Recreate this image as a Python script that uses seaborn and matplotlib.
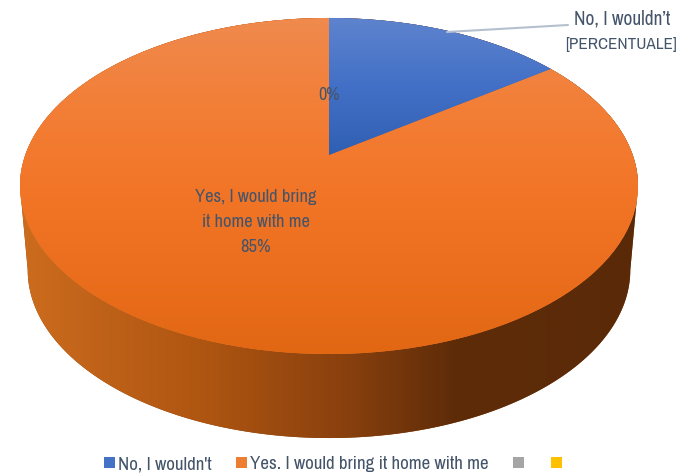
import numpy as np
import matplotlib
matplotlib.use("Agg")
import matplotlib.pyplot as plt
import seaborn as sns
from matplotlib.colors import LinearSegmentedColormap
from matplotlib.patches import PathPatch
from matplotlib.path import Path
from matplotlib.transforms import Transform

categories = ["No, I wouldn't", "Yes. I would bring it home with me", "", ""]
shares = [15, 85, 0, 0]
series_colors = ["#4472C4", "#ED7D31", "#A5A5A5", "#FFC000"]

sns.set_theme(style="white")
plt.rcParams["font.family"] = ["Archivo Narrow", "Liberation Sans", "DejaVu Sans"]
INK = "#44546A"

WIDTH, HEIGHT = 692, 476
CX, CY = 329.0, 155.0
TILT = 62 / 336
SCALE_Y = 162.3
SCALE_X = 303.7
DEPTH = 84.0
BASE_SHRINK = 0.975


class TiltedDisc(Transform):
    """Projective view of the unit disc, seen from above and slightly behind."""
    input_dims = output_dims = 2
    is_separable = False
    has_inverse = False

    def __init__(self, shift=0.0, shrink=1.0):
        super().__init__()
        self.shift = shift
        self.shrink = shrink

    def transform_non_affine(self, values):
        values = np.asarray(values, dtype=float)
        w = 1 + TILT * values[:, 1]
        return np.column_stack([
            CX + self.shrink * SCALE_X * values[:, 0] / w,
            CY + self.shift - SCALE_Y * values[:, 1] / w,
        ])


def gradient(ax, stops, extent, horizontal, clip_patch, zorder):
    cmap = LinearSegmentedColormap.from_list("shade", stops)
    ramp = np.linspace(0, 1, 512)
    ramp = ramp[None, :] if horizontal else ramp[:, None]
    im = ax.imshow(ramp, cmap=cmap, extent=extent, aspect="auto",
                   origin="upper", interpolation="bilinear", zorder=zorder)
    im.set_clip_path(clip_patch)


fig = plt.figure(figsize=(WIDTH / 100, HEIGHT / 100), dpi=100, facecolor="white")
ax = fig.add_axes([0, 0, 1, 1])

palette = sns.color_palette(series_colors)
wedges, _ = ax.pie(shares, colors=palette, startangle=90, counterclock=False,
                   radius=1.0, wedgeprops={"linewidth": 0})
top_view = TiltedDisc()
for wedge in wedges:
    wedge.set_transform(top_view + ax.transData)
    wedge.set_clip_on(False)
    wedge.set_zorder(3)

# Silhouette of the extruded side: lower rim of the base, upper rim of the top
edge = np.arcsin(TILT)
lower = np.linspace(np.pi + edge, 2 * np.pi - edge, 240)
upper = np.linspace(-edge, np.pi + edge, 360)
base_rim = TiltedDisc(DEPTH, BASE_SHRINK).transform(np.column_stack([np.cos(lower), np.sin(lower)]))
top_rim = top_view.transform(np.column_stack([np.cos(upper), np.sin(upper)]))
side_patch = PathPatch(Path(np.vstack([base_rim, top_rim, base_rim[:1]]), closed=True),
                       facecolor="#8B420E", linewidth=0, transform=ax.transData, zorder=1)
ax.add_patch(side_patch)
gradient(ax, [(0.0, "#CC6C1E"), (0.30, "#AE5511"), (0.52, "#8A410E"),
              (0.70, "#5F2C08"), (1.0, "#5A2A08")],
         (20, 640, 440, 15), True, side_patch, 2)

# Vertical shading on the two slices of the top face
gradient(ax, [(0.0, "#EF8A4E"), (0.25, "#F27F38"), (0.5, "#F37628"), (1.0, "#E26713")],
         (15, 645, 356, 16), False, wedges[1], 4)
gradient(ax, [(0.0, "#5F84CE"), (0.5, "#4270C6"), (1.0, "#2F5FB3")],
         (325, 555, 156, 16), False, wedges[0], 5)

# Data labels
ax.text(329, 95, "0%", ha="center", va="center", fontsize=13, color=INK, zorder=6)
for y, line in zip((197, 222, 247), ("Yes, I would bring", "it home with me", "85%")):
    ax.text(255.5, y, line, ha="center", va="center", fontsize=13.3, color=INK, zorder=6)
ax.text(622, 19, "No, I wouldn\u2019t", ha="center", va="center", fontsize=14, color=INK, zorder=6)
ax.text(621, 45, "[PERCENTUALE]", ha="center", va="center", fontsize=12.3, color=INK, zorder=6)
ax.annotate("", xy=(447, 32), xytext=(568, 25),
            arrowprops={"arrowstyle": "-", "color": "#B4C0CF", "lw": 1.5,
                        "shrinkA": 0, "shrinkB": 0}, zorder=6)

ax.legend(wedges, categories, loc="lower left", bbox_to_anchor=(100 / WIDTH, 0.0),
          ncol=4, frameon=False, fontsize=13.6, labelcolor=INK, handlelength=0.58,
          handleheight=0.58, handletextpad=0.16, columnspacing=1.29, borderpad=0.2,
          borderaxespad=0.0)

ax.set_xlim(0, WIDTH)
ax.set_ylim(HEIGHT, 0)
ax.set_aspect("auto")
ax.axis("off")
fig.savefig("out.png", dpi=100, facecolor="white")
